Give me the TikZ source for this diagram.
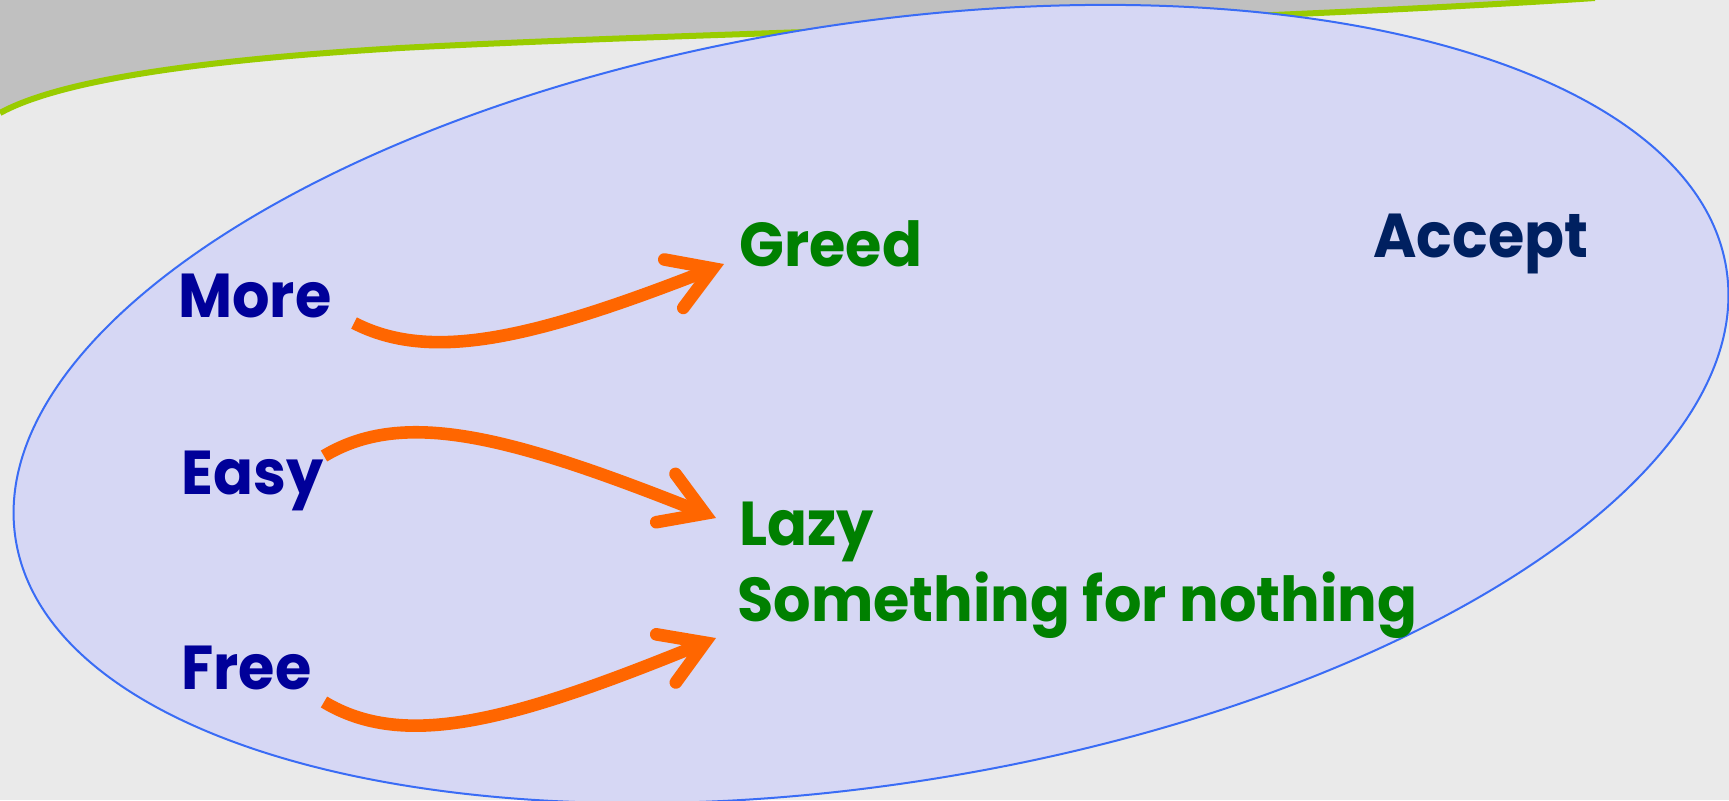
\documentclass[tikz,border=0pt]{standalone}
\usepackage{fontspec}
\setmainfont{Poppins}[FakeStretch=0.95]
\usetikzlibrary{arrows.meta}
\definecolor{bgcol}{HTML}{EAEAEA}
\definecolor{topgray}{HTML}{C0C0C0}
\definecolor{limeline}{HTML}{99CC00}
\definecolor{ellfill}{HTML}{D6D7F4}
\definecolor{elldraw}{HTML}{3A6CF5}
\definecolor{causeblue}{HTML}{000099}
\definecolor{effgreen}{HTML}{008000}
\definecolor{navytext}{HTML}{002060}
\definecolor{arrorange}{HTML}{FF6600}
\begin{document}
\begin{tikzpicture}[x=0.5pt,y=-0.5pt,
  lbl/.style={font=\fontsize{31}{37}\selectfont\bfseries, inner sep=0pt, anchor=base west},
  cause/.style={lbl,text=causeblue},
  effect/.style={lbl,text=effgreen},
  accepttext/.style={lbl,text=navytext},
  arr/.style={draw=arrorange, line width=6.3pt,
    -{Straight Barb[length=21pt,width=26pt,line join=miter,line cap=round]}}]
\useasboundingbox (0,0) rectangle (1729,800);
\fill[bgcol] (0,0) rectangle (1729,800);
% top gray band with lime edge
\fill[topgray] (0,0) -- (0,113) .. controls (60,80) and (200,60) .. (400,48)
  .. controls (700,32) and (1200,24) .. (1595,-2) -- cycle;
\draw[limeline, line width=3pt] (0,113) .. controls (60,80) and (200,60) .. (400,48)
  .. controls (700,32) and (1200,24) .. (1595,-2);
% ellipse
\draw[fill=ellfill, draw=elldraw, line width=1pt] (871,404) ellipse [x radius=866, y radius=380, rotate=9];
% labels
\node[cause] (more) at (178,317) {More};
\node[cause] (easy) at (181,494) {Easy};
\node[cause] (free) at (181,689) {Free};
\node[effect] (greed) at (739,266) {Greed};
\node[effect] (lazy) at (739,545) {Lazy};
\node[effect] (sfn) at (737,621) {Something for nothing};
\node[accepttext] (accept) at (1373,257) {Accept};
% connector end points
\coordinate (moreout) at (354,323);
\coordinate (greedin) at (724,264);
\coordinate (easyout) at (324,456);
\coordinate (lazyin) at (716,518);
\coordinate (freeout) at (324,702);
\coordinate (sfnin) at (716,638);
\draw[arr] (moreout) .. controls (430,362) and (530,340) .. (greedin);
\draw[arr] (easyout) .. controls (404,408) and (510,436) .. (lazyin);
\draw[arr] (freeout) .. controls (404,750) and (510,722) .. (sfnin);
\end{tikzpicture}
\end{document}
